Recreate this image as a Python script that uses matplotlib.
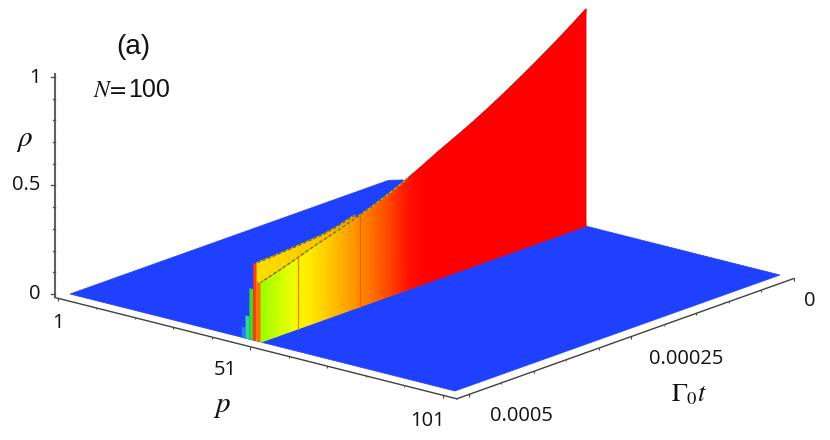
import numpy as np
import matplotlib
matplotlib.use("Agg")
import matplotlib.pyplot as plt
from matplotlib.colors import LinearSegmentedColormap
from matplotlib.patches import Polygon

plt.rcParams["mathtext.fontset"] = "stix"

# values
t_frac = [0, 0.05, 0.10, 0.15, 0.20, 0.25, 0.30, 0.35, 0.40, 0.45, 0.50,
          0.55, 0.60, 0.65, 0.70, 0.75, 0.80, 0.85, 0.90, 0.95, 1.0]
rho_front = [1.0, 0.945, 0.893, 0.843, 0.795, 0.749, 0.705, 0.664, 0.626, 0.59, 0.55,
             0.512, 0.478, 0.447, 0.42, 0.395, 0.372, 0.348, 0.322, 0.298, 0.276]
t_back = [0.70, 0.75, 0.80, 0.85, 0.90, 0.95, 1.0]
rho_back = [0.42, 0.397, 0.382, 0.376, 0.37, 0.365, 0.362]
side_p = [45.6, 46.6, 47.6, 48.6, 49.6]
side_rho = [0.05, 0.105, 0.235, 0.355, 0.272]
side_colors = ["#2080F0", "#30D890", "#40D820", "#FF4000", "#FF6A00"]
seam_t = [0.695, 0.885]

p_ticks = np.arange(1, 102, 10)
t_ticks = np.arange(0, 1.01, 0.1)
rho_ticks = np.arange(0, 1.01, 0.1)

WALL_P = 50.6
BLUE = "#2040FF"

cmap = LinearSegmentedColormap.from_list("rho", [
    (0.0, BLUE), (0.105, "#30D890"), (0.235, "#40D820"), (0.276, "#A0FF00"),
    (0.33, "#FFFF00"), (0.372, "#FFD000"), (0.40, "#FFA800"), (0.435, "#FF7800"),
    (0.53, "#FF0000"), (1.0, "#FF0000")])


def to_px(p, t, rho=0.0):
    # parallelogram floor plus a vertical rho direction
    x = 395 + 3.85 * (np.asarray(p) - 1) - 325 * np.asarray(t)
    y = 178 + 0.97 * (np.asarray(p) - 1) + 116 * np.asarray(t) - 217 * np.asarray(rho)
    return x, y


def draw_wall(ax, p, t, rho, z):
    t = np.asarray(t)
    rho = np.asarray(rho)
    x0, y0 = to_px(p, t)
    x1, y1 = to_px(p, t, rho)
    X = np.vstack([x0, x1])
    Y = np.vstack([y0, y1])
    C = np.vstack([rho, rho])
    ax.pcolormesh(X, Y, C, shading="gouraud", cmap=cmap, vmin=0, vmax=1, zorder=z)
    return x1, y1


def side_face(ax, p, rho, color, z):
    xa, ya = to_px(p, 1.0)
    xb, yb = to_px(p + 1, 1.0)
    xc, yc = to_px(p + 1, 1.0, rho)
    xd, yd = to_px(p, 1.0, rho)
    ax.add_patch(Polygon([(xa, ya), (xb, yb), (xc, yc), (xd, yd)],
                         closed=True, facecolor=color, edgecolor="none", zorder=z))


fig = plt.figure(figsize=(8.3, 4.4), dpi=100)
ax = fig.add_axes([0, 0, 1, 1])
ax.set_xlim(0, 830)
ax.set_ylim(440, 0)
ax.axis("off")

# floor, back corner slightly cut
floor = [to_px(1, 0.02), to_px(3, 0), to_px(101, 0), to_px(101, 1), to_px(1, 1)]
ax.add_patch(Polygon(floor, closed=True, facecolor=BLUE, edgecolor=BLUE, lw=0.5, zorder=1))

# end faces and walls
for i in range(4):
    side_face(ax, side_p[i], side_rho[i], side_colors[i], 2)
xb, yb = draw_wall(ax, WALL_P - 1, t_back, rho_back, 3)
ax.plot(xb, yb, color="#60E010", lw=1.0, zorder=3.5)
ax.plot(xb, yb, color="#F03010", lw=1.0, ls=(0, (2, 2)), zorder=3.6)
side_face(ax, side_p[4], side_rho[4], side_colors[4], 4)
xf, yf = draw_wall(ax, WALL_P, t_frac, rho_front, 5)
ax.plot(xf[:12], yf[:12], color="#D81010", lw=0.8, zorder=5.5)
ax.plot(xf[11:], yf[11:], color="#60E010", lw=1.0, zorder=5.5)
ax.plot(xf[11:], yf[11:], color="#F03010", lw=1.0, ls=(0, (2, 2)), zorder=5.6)

for t, col in zip(seam_t, ["#F06000", "#FF8000"]):
    r = np.interp(t, t_frac, rho_front)
    x0, y0 = to_px(WALL_P, t)
    x1, y1 = to_px(WALL_P, t, r)
    ax.plot([x0, x1], [y0, y1], color=col, lw=0.9, zorder=5.7)

# rho axis
ax.plot([55, 55], [74, 297], color="#606060", lw=1.5, zorder=6)
for i, r in enumerate(rho_ticks):
    y = 294 - 217 * r
    ax.plot([55 - (4 if i % 5 == 0 else 2), 55], [y, y], color="#505050", lw=1, zorder=6)

# p axis and t axis run just outside the floor
AX_T = 1.037
AX_P = 104.6
xa, ya = to_px([0.2, AX_P], AX_T)
ax.plot(xa, ya, color="#404040", lw=1, zorder=6)
xa, ya = to_px(AX_P, [AX_T, 0])
ax.plot(xa, ya, color="#404040", lw=1, zorder=6)
for i, p in enumerate(p_ticks):
    x, y = to_px(p, AX_T)
    ax.vlines(x, y, y + (3 if i % 5 == 0 else 1.5), color="#404040", lw=0.8, zorder=6)
for i, t in enumerate(t_ticks):
    x, y = to_px(AX_P, t)
    ax.vlines(x, y, y + (3 if i % 5 == 0 else 1.5), color="#404040", lw=0.8, zorder=6)

# tick labels
tick_font = dict(family="Open Sans", fontsize=14.5, color="#111111", ha="center", va="center")
for txt, x, y in [("1", 35, 78), ("0.5", 26, 185), ("0", 35, 294),
                  ("1", 58, 323), ("51", 225, 370), ("101", 428, 421),
                  ("0.0005", 521, 416), ("0.00025", 686, 359), ("0", 810, 301)]:
    ax.text(x, y, txt, **tick_font)

# axis names and panel text
ax.text(24, 140, r"$\rho$", fontsize=21, ha="center", va="center", color="#111111")
ax.text(222, 406, r"$p$", fontsize=21, ha="center", va="center", color="#111111")
ax.text(689, 394, r"$\Gamma_0 t$", fontsize=19, ha="center", va="center", color="#111111")
ax.text(133, 47, "(a)", family="Liberation Sans", fontsize=20, ha="center", va="center", color="#111111")
ax.text(127, 90, r"$N\!=$", fontsize=17, ha="right", va="center", color="#111111")
ax.text(128, 90, "100", family="Liberation Sans", fontsize=18, ha="left", va="center", color="#111111")

fig.savefig("out.png", dpi=100)
